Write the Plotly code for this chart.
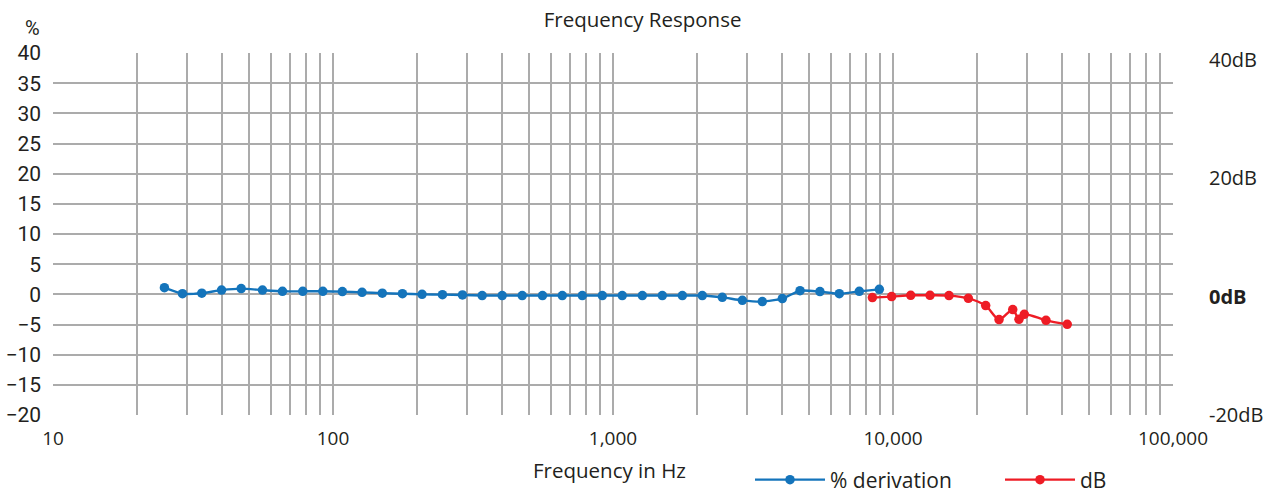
import plotly.graph_objects as go

# ---- data ----
freq_pct = [25, 29, 34, 40, 47, 56, 66, 78, 92, 108, 127, 150, 177, 208, 246, 290, 341,
            402, 474, 560, 659, 777, 916, 1079, 1273, 1500, 1769, 2084,
            2457, 2897, 3414, 4025, 4656, 5483, 6430, 7580, 8937]
pct_derivation = [1.1, 0.1, 0.2, 0.7, 0.95, 0.7, 0.5, 0.5, 0.5, 0.45, 0.33, 0.2, 0.1, 0.0, -0.05, -0.1, -0.2,
                  -0.2, -0.2, -0.2, -0.2, -0.2, -0.2, -0.2, -0.2, -0.2, -0.2, -0.2,
                  -0.5, -1.0, -1.2, -0.7, 0.6, 0.45, 0.1, 0.5, 0.83]

freq_db = [8440, 9890, 11570, 13560, 15850, 18580, 21430, 23920, 26770, 28180, 29440, 35190, 41900]
db_values = [-0.15, 0.02, 0.24, 0.24, 0.19, -0.27, -1.5, -3.87, -2.18, -3.82, -2.97, -3.99, -4.67]

x_grid = [m * 10 ** e for e in range(1, 5) for m in range(1, 10)] + [100000]
x_tick_labels = {10: "10", 100: "100", 1000: "1,000", 10000: "10,000", 100000: "100,000"}
y_ticks = list(range(-20, 41, 5))
y2_ticks = [-20, 0, 20, 40]
y2_labels = ["-20dB", "<b>0dB</b>", "20dB", "40dB"]

BLUE = "#1474BB"
RED = "#EE1C25"
GRID = "#ABABAB"
TEXT = "#231F20"

fig = go.Figure()
fig.add_trace(go.Scatter(
    x=freq_pct, y=pct_derivation, name="% derivation", mode="lines+markers",
    line=dict(color=BLUE, width=2.4, shape="spline", smoothing=0.6),
    marker=dict(color=BLUE, size=9.5), yaxis="y"))
fig.add_trace(go.Scatter(
    x=freq_db, y=db_values, name="dB", mode="lines+markers",
    line=dict(color=RED, width=2.4, shape="spline", smoothing=0.8),
    marker=dict(color=RED, size=9.5), yaxis="y2"))

fig.add_vline(x=1000, line=dict(color="#7F7F7F", width=2), layer="below")

fig.update_layout(
    width=1270, height=493,
    margin=dict(l=53, r=97, t=53, b=78, autoexpand=False),
    paper_bgcolor="white", plot_bgcolor="white",
    font=dict(family="Open Sans", color=TEXT),
    title=dict(text="Frequency Response", x=0.506, xref="container", xanchor="center",
               y=1 - 20 / 493, yref="container", yanchor="middle", automargin=False,
               font=dict(size=20.5, family="Open Sans", color=TEXT)),
    xaxis=dict(type="log", range=[1, 5], tickvals=x_grid, automargin=False,
               ticktext=[x_tick_labels.get(v, "") for v in x_grid],
               showgrid=True, gridcolor=GRID, gridwidth=1.8, zeroline=False,
               showline=False, ticks="", ticklabelstandoff=10,
               tickfont=dict(size=19, family="Open Sans", color=TEXT)),
    yaxis=dict(range=[-20, 40], tickvals=y_ticks, showgrid=True, gridcolor=GRID,
               gridwidth=1.8, zeroline=False, showline=False, ticks="",
               ticklabelstandoff=11, automargin=False,
               tickfont=dict(size=21, family="Roboto", color=TEXT)),
    yaxis2=dict(range=[-20, 41.2], overlaying="y", side="right", tickvals=y2_ticks,
                ticktext=y2_labels, showgrid=False, zeroline=False, showline=False,
                ticks="", ticklabelstandoff=35, automargin=False,
                tickfont=dict(size=20, family="Open Sans", color=TEXT)),
    legend=dict(orientation="h", xref="container", yref="container",
                x=750 / 1270, xanchor="left", y=1 - 480 / 493, yanchor="middle",
                itemwidth=70, entrywidth=165, entrywidthmode="pixels",
                font=dict(size=21, family="Open Sans", color=TEXT),
                bgcolor="rgba(0,0,0,0)"),
    showlegend=True,
)

# axis title and unit label
fig.add_annotation(text="Frequency in Hz", xref="paper", yref="paper", x=0.497, y=-0.152,
                   xanchor="center", yanchor="middle", showarrow=False,
                   font=dict(size=20.5, family="Open Sans", color=TEXT))
fig.add_annotation(text="%", xref="paper", yref="paper", x=-0.01, y=1.068,
                   xanchor="right", yanchor="middle", showarrow=False,
                   font=dict(size=20, family="Roboto", color=TEXT))

fig.write_html(
    "out.html",
    config={"displayModeBar": False},
    post_script="document.body.style.margin='0';document.body.style.overflow='hidden';",
)
